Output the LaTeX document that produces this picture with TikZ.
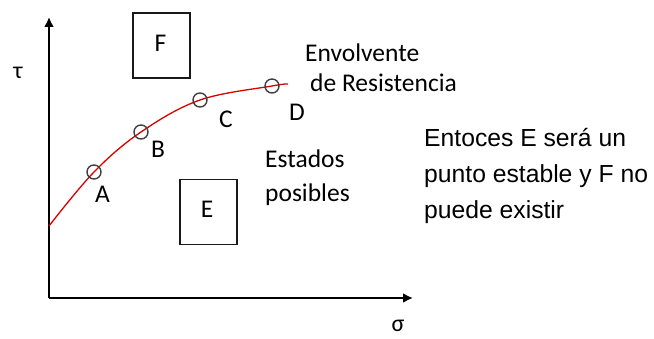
\documentclass[tikz,border=0pt]{standalone}
\usepackage{fontspec}
\setmainfont{Carlito}
\newfontfamily\arialfont{Liberation Sans}
\usetikzlibrary{arrows.meta}
\begin{document}
\begin{tikzpicture}[x=1pt,y=-1pt,
  lbl/.style={font=\fontsize{25.5}{28}\selectfont, text=black, inner sep=0pt, anchor=base west},
  note/.style={font=\arialfont\fontsize{24.7}{28}\selectfont, text=black, inner sep=0pt, anchor=base west},
  axis/.style={line width=2.8pt, -{Latex[width=10pt,length=10pt]}},
  boxst/.style={draw=black!90, line width=1.6pt, minimum width=57pt, minimum height=65pt, inner sep=0pt},
  pt/.style={circle, draw=black!75, line width=1.4pt, minimum size=14pt, inner sep=0pt},
  env/.style={draw=red!85!black, line width=1.3pt}]
\useasboundingbox (0,0) rectangle (654,339);
% axes
\coordinate (O) at (49,298);
\coordinate (Ytop) at (49,17);
\coordinate (Xend) at (413,298);
\draw[axis] (O) -- (Ytop);
\draw[axis] (O) -- (Xend);
\node[font=\fontsize{24}{26}\selectfont, text=black, inner sep=0pt] (tau) at (18,73) {τ};
\node[font=\fontsize{24}{26}\selectfont, text=black, inner sep=0pt] (sig) at (398,326) {σ};
% envelope
\draw[env] plot[smooth, tension=0.6] coordinates {(49,226) (94,172) (141,132) (200,100) (272,86) (288,84)};
\node[pt] (A) at (94,172) {};
\node[pt] (B) at (141,132) {};
\node[pt] (C) at (200,100) {};
\node[pt] (D) at (272,86) {};
\node[lbl] (lA) at (95,203) {A};
\node[lbl] (lB) at (151,158) {B};
\node[lbl] (lC) at (219,128) {C};
\node[lbl] (lD) at (289,121) {D};
% boxes
\node[boxst] (F) at (161.5,45.5) {};
\node[lbl, anchor=base] (lF) at (160.5,52) {F};
\node[boxst] (E) at (208.5,212) {};
\node[lbl, anchor=base] (lE) at (207,218) {E};
% texts
\node[lbl] (t1) at (305,62) {Envolvente};
\node[lbl] (t2) at (310,92) {de Resistencia};
\node[lbl] (t3) at (265,168) {Estados};
\node[lbl] (t4) at (265,202) {posibles};
\node[note] (n1) at (424,147) {Entoces E será un};
\node[note] (n2) at (424,183) {punto estable y F no};
\node[note] (n3) at (424,219) {puede existir};
\end{tikzpicture}
\end{document}
